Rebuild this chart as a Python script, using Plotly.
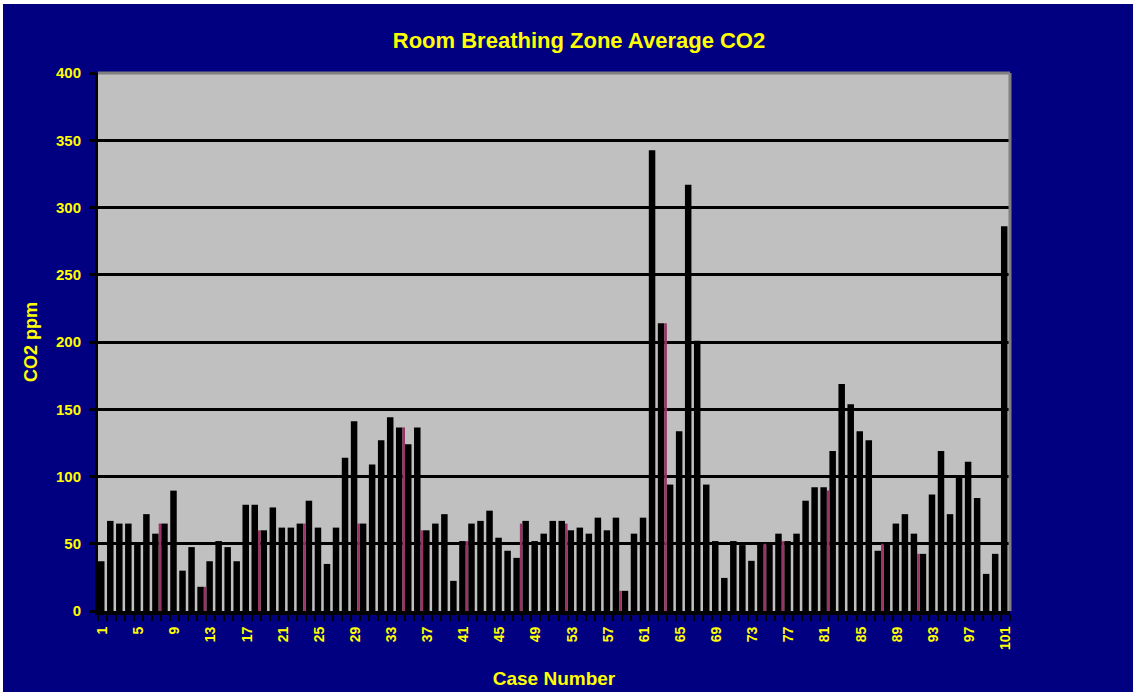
import plotly.graph_objects as go

# ------------------------------------------------------------------
# Data
# ------------------------------------------------------------------
case_numbers = list(range(1, 102))

co2_ppm = [
    37, 67, 65, 65, 50, 72, 57.5, 65, 89.5, 30,
    47.5, 18, 37, 52, 47.5, 37, 79, 79, 60, 77,
    62, 62, 65, 82, 62, 35, 62, 114, 141, 65,
    109, 127, 144, 136.5, 124, 136.5, 60, 65, 72, 22.4,
    52, 65, 67, 74.6, 54.5, 44.8, 39.5, 67, 52, 57.5,
    67, 67, 60, 62, 57.5, 69.4, 60, 69.4, 15, 57.5,
    69.4, 342.5, 214, 94, 133.6, 317, 201, 94, 52, 24.6,
    52, 49, 37.3, 50, 50, 57.5, 52, 57.5, 82, 92,
    92, 119, 168.7, 153.7, 133.6, 127, 44.8, 50, 65, 72,
    57.5, 42.5, 86.6, 119, 72, 100, 111, 84, 27.6, 42.5,
    286,
]

# thin maroon slivers that sit in the gap after some bars
maroon_cases = [7, 12, 18, 23, 29, 34, 36, 41, 47, 52, 58, 63, 74, 76, 81, 87, 91]
maroon_ppm = [65, 18, 60, 65, 65, 136.5, 60, 52, 65, 65, 15, 214, 50, 52, 89.6, 50, 42.5]

x_tick_cases = list(range(1, 102, 4))
y_ticks = [0, 50, 100, 150, 200, 250, 300, 350, 400]

NAVY = "#000080"
YELLOW = "#FFFF00"
FONT = "Liberation Sans, Arial, sans-serif"

# plot area geometry (pixels)
W, H = 1143, 698
L, R, T, B = 98, 133, 73, 87
PW, PH = W - L - R, H - T - B


def px_x(px):
    return (px - L) / PW


def px_y(py):
    return (H - B - py) / PH


fig = go.Figure()

fig.add_trace(go.Bar(
    x=case_numbers, y=co2_ppm, name="CO2",
    marker=dict(color="black", line_width=0),
    width=0.72, offset=-0.5,
))
fig.add_trace(go.Bar(
    x=maroon_cases, y=maroon_ppm, name="CO2 (b)",
    marker=dict(color="#993366", line_width=0),
    width=0.28, offset=0.22,
))

shapes = [
    # navy chart frame with thin white border
    dict(type="rect", xref="paper", yref="paper", layer="below",
         x0=px_x(3), x1=px_x(1133), y0=px_y(692), y1=px_y(4),
         fillcolor=NAVY, line_width=0),
    # silver plot area
    dict(type="rect", xref="paper", yref="paper", layer="below",
         x0=0, x1=1, y0=0, y1=1, fillcolor="#C0C0C0", line_width=0),
    # grey top / right plot border
    dict(type="line", xref="paper", yref="paper", layer="above",
         x0=0, x1=1, y0=1, y1=1, line=dict(color="#808080", width=3)),
    dict(type="line", xref="paper", yref="paper", layer="above",
         x0=1, x1=1, y0=0, y1=1, line=dict(color="#808080", width=3)),
]

fig.update_layout(
    width=W, height=H,
    margin=dict(l=L, r=R, t=T, b=B),
    paper_bgcolor="white",
    plot_bgcolor="#C0C0C0",
    barmode="overlay",
    showlegend=False,
    shapes=shapes,
    font=dict(family=FONT, color=YELLOW),
    title=dict(
        text="<b>Room Breathing Zone Average CO2</b>",
        x=579 / W, xanchor="center", xref="container",
        y=1 - 40 / H, yanchor="middle", yref="container",
        font=dict(size=22, color=YELLOW, family=FONT),
    ),
)

fig.update_yaxes(
    range=[0, 400], tickvals=y_ticks,
    showgrid=True, gridcolor="black", gridwidth=3,
    zeroline=False,
    showline=True, linecolor="black", linewidth=3,
    ticks="outside", ticklen=6, tickwidth=3, tickcolor="black",
    ticklabelstandoff=5,
    tickfont=dict(size=15, color=YELLOW, family=FONT, weight="bold"),
    title=dict(text="<b>CO2 ppm</b>", standoff=14,
               font=dict(size=18, color=YELLOW, family=FONT)),
)

fig.update_xaxes(
    range=[0.5, 101.5],
    tickvals=x_tick_cases, ticktext=[str(c) for c in x_tick_cases],
    tickangle=-90,
    showgrid=False, zeroline=False,
    showline=True, linecolor="black", linewidth=4,
    ticks="outside", ticklen=6, tickwidth=2, tickcolor=NAVY,
    minor=dict(tick0=0.5, dtick=1, ticks="outside", ticklen=6,
               tickwidth=2, tickcolor="black", showgrid=False),
    tickfont=dict(size=14, color=YELLOW, family=FONT, weight="bold"),
    title=dict(text="<b>Case Number</b>", standoff=24,
               font=dict(size=19, color=YELLOW, family=FONT)),
)

# page body margin would shift the chart; remove it
fig.write_html("out.html", config={"displayModeBar": False},
               post_script="document.body.style.margin='0px';")
